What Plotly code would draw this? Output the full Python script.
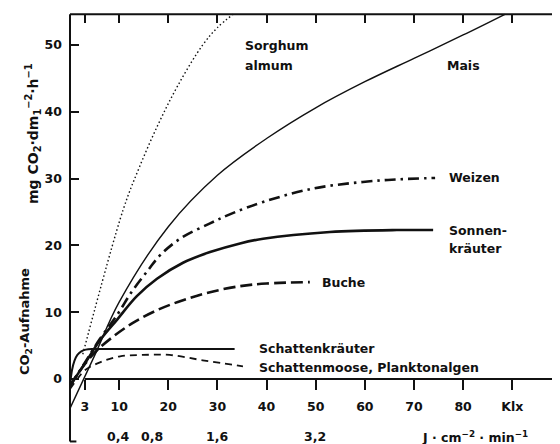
import plotly.graph_objects as go

# ---- data (x in Klx, y in mg CO2 dm^-2 h^-1) ----
mais_x = [0, 5, 10, 20, 30, 40, 50, 60, 70, 80, 88.5]
mais_y = [-4.4, 3.5, 11.5, 22.8, 30.5, 36.0, 40.6, 44.5, 48.0, 51.5, 54.6]

sorghum_x = [2.6, 10.8, 14, 18, 22, 27, 30, 33.2]
sorghum_y = [3.7, 25.3, 31.5, 38.2, 44.0, 50.0, 52.6, 54.6]

weizen_x = [0, 3, 6, 9.6, 12.5, 15.9, 18.3, 22.4, 28.5, 33, 39.3, 49.4, 59.6, 67, 74.3]
weizen_y = [-1, 2.4, 5.9, 9.6, 13.0, 16.3, 18.5, 21.0, 23.3, 24.8, 26.5, 28.5, 29.5, 29.9, 30.1]

sonnen_x = [0, 3, 6.1, 9.6, 13.6, 17.7, 23, 28.5, 34.6, 39.3, 52.9, 66.5, 73.9]
sonnen_y = [-1, 2.3, 5.8, 8.9, 12.4, 15.0, 17.4, 19.0, 20.3, 21.0, 22.0, 22.3, 22.3]

buche_x = [0, 3, 5.5, 8.7, 12.8, 17.7, 23, 28.5, 34.6, 40, 48.8]
buche_y = [-1, 2.2, 4.3, 6.3, 8.4, 10.3, 11.8, 13.0, 13.9, 14.3, 14.5]

schattenkr_x = [0, 0.4, 0.9, 1.5, 2.3, 3.2, 4.5, 8, 20, 33.5]
schattenkr_y = [-0.8, 1.3, 2.7, 3.6, 4.15, 4.4, 4.5, 4.5, 4.5, 4.5]

moose_x = [0, 1.5, 3, 6.1, 10.2, 14.8, 20.3, 27, 35.2]
moose_y = [-1.5, 0, 1.3, 2.5, 3.4, 3.6, 3.6, 2.8, 1.9]

x_ticks = [3, 10, 20, 30, 40, 50, 60, 70, 80, 90]
x_ticktext = ["3", "10", "20", "30", "40", "50", "60", "70", "80", "Klx"]
y_ticks = [0, 10, 20, 30, 40, 50]

energy_pos = [9.8, 16.7, 29.9, 49.9]
energy_text = ["0,4", "0,8", "1,6", "3,2"]

FONT = "DejaVu Sans"
INK = "#111111"
FS = 12.5

# figure sits 8px in from the page corner (body margin)
W, H = 552, 436
OFF = 8
PXX, PXY = 4.914, 6.68          # pixels per unit
AX0_PX, AY0_PX = 70 - OFF, 379 - OFF   # data origin in figure pixels
X0, X1 = -AX0_PX / PXX, (W - AX0_PX) / PXX
Y0, Y1 = (AY0_PX - H) / PXY, AY0_PX / PXY
TOP = 54.6

fig = go.Figure()

def add(x, y, width, dash, smoothing=1.0):
    fig.add_trace(go.Scatter(
        x=x, y=y, mode="lines",
        line=dict(color=INK, width=width, dash=dash, shape="spline", smoothing=smoothing),
        hoverinfo="skip", showlegend=False))

add(sorghum_x, sorghum_y, 1.4, "1.5px,2.5px")
add(mais_x, mais_y, 1.4, "solid")
add(weizen_x, weizen_y, 2.6, "11px,5px,2.5px,5px")
add(sonnen_x, sonnen_y, 2.6, "solid")
add(buche_x, buche_y, 2.6, "12px,5px")
add(schattenkr_x, schattenkr_y, 2.0, "solid", 0.5)
add(moose_x, moose_y, 1.8, "7px,5px")

tf = dict(family=FONT, size=FS, color=INK, weight="bold")

fig.update_layout(
    width=W, height=H,
    margin=dict(l=0, r=0, t=0, b=0),
    paper_bgcolor="white", plot_bgcolor="white",
    font=tf,
    xaxis=dict(range=[X0, X1], anchor="free", position=(H - AY0_PX) / H,
               showgrid=False, zeroline=False, showline=False,
               ticks="outside", ticklen=10, tickwidth=2, tickcolor=INK,
               tickvals=x_ticks, ticktext=x_ticktext, ticklabelstandoff=6,
               tickfont=tf),
    xaxis2=dict(range=[X0, X1], overlaying="x", anchor="free", position=(H - (14 - OFF)) / H,
                side="top", showgrid=False, zeroline=False, showline=False,
                ticks="inside", ticklen=8, tickwidth=2, tickcolor=INK,
                tickvals=x_ticks, showticklabels=False),
    yaxis=dict(range=[Y0, Y1], anchor="free", position=AX0_PX / W,
               showgrid=False, zeroline=False, showline=False,
               ticks="inside", ticklen=8, tickwidth=2, tickcolor=INK,
               tickvals=y_ticks, ticklabelstandoff=8,
               tickfont=tf),
)

# dummy trace to activate xaxis2
fig.add_trace(go.Scatter(x=[None], y=[None], xaxis="x2", showlegend=False))

lw = 2
fig.add_shape(type="line", x0=0, x1=0, y0=-9.35, y1=TOP, line=dict(color=INK, width=lw))
fig.add_shape(type="line", x0=0, x1=X1 + 1, y0=TOP, y1=TOP, line=dict(color=INK, width=lw))
fig.add_shape(type="line", x0=3, x1=X1 + 1, y0=0, y1=0, line=dict(color=INK, width=lw))
fig.add_shape(type="line", x0=0, x1=1.3, y0=-9.35, y1=-9.35, line=dict(color=INK, width=lw))

labels = [
    ("Sorghum", 35.2, 50.0), ("almum", 35.2, 47.0),
    ("Mais", 76.3, 47.0),
    ("Weizen", 76.7, 30.2),
    ("Sonnen-", 76.7, 22.3), ("kräuter", 76.7, 19.6),
    ("Buche", 50.9, 14.4),
    ("Schattenkräuter", 38.0, 4.5),
    ("Schattenmoose, Planktonalgen", 38.0, 1.65),
]
for t, x, y in labels:
    fig.add_annotation(x=x, y=y, text=t, showarrow=False, xanchor="left", yanchor="middle",
                       font=tf)

for t, x in zip(energy_text, energy_pos):
    fig.add_annotation(x=x, y=-8.68, text=t, showarrow=False, xanchor="center", yanchor="middle",
                       font=tf)
fig.add_annotation(x=82.4, y=-8.68, text="J · cm<sup>−2</sup> · min<sup>−1</sup>", showarrow=False,
                   xanchor="center", yanchor="middle", font=tf)

def px_paper(px, py):
    return (px - OFF) / W, (444 - py) / H

mx, my = px_paper(33, 134)
fig.add_annotation(xref="paper", yref="paper", x=mx, y=my,
                   text="mg CO<sub>2</sub>·dm<sub>1</sub><sup>−2</sup>·h<sup>−1</sup>",
                   textangle=-90, showarrow=False, xanchor="center", yanchor="middle",
                   font=dict(family=FONT, size=14, color=INK, weight="bold"))
cx, cy = px_paper(25, 322)
fig.add_annotation(xref="paper", yref="paper", x=cx, y=cy,
                   text="CO<sub>2</sub>-Aufnahme",
                   textangle=-90, showarrow=False, xanchor="center", yanchor="middle",
                   font=dict(family=FONT, size=13, color=INK, weight="bold"))

fig.write_html("out.html")
